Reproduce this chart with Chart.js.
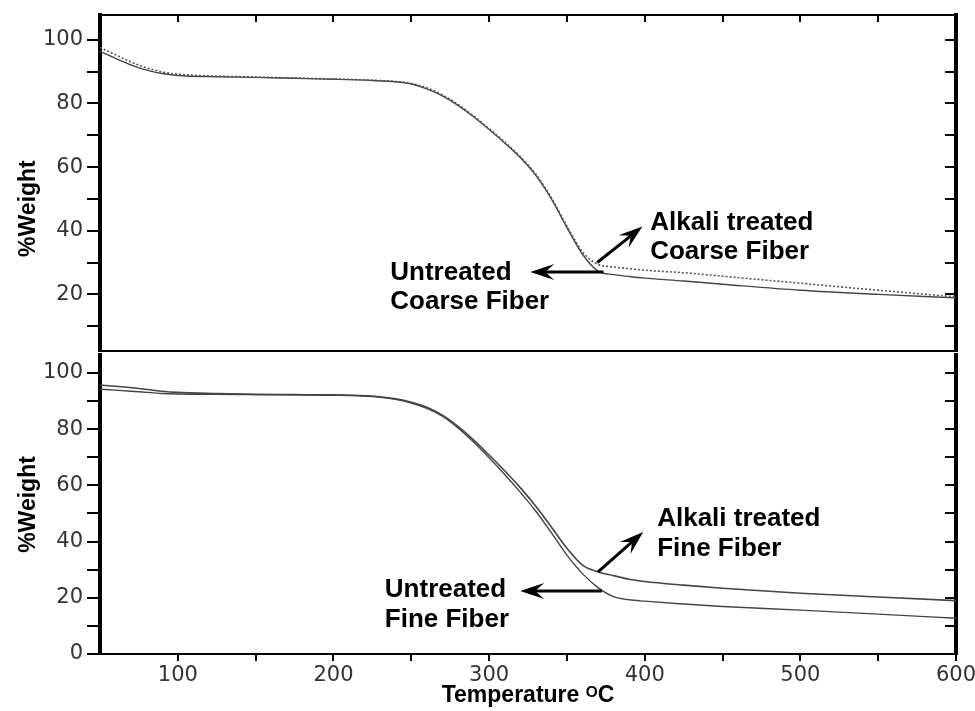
<!DOCTYPE html>
<html>
<head>
<meta charset="utf-8">
<script src="https://cdn.jsdelivr.net/npm/chart.js@4.4.1/dist/chart.umd.min.js"></script>
<style>
  html, body { margin: 0; padding: 0; background: #fff; }
  #wrap { position: relative; width: 975px; height: 711px; overflow: hidden; }
  canvas { position: absolute; left: 0; }
  #topChart { top: 0; }
  #bottomChart { top: 353px; }
</style>
</head>
<body>
<div id="wrap">
  <canvas id="topChart" width="975" height="353"></canvas>
  <canvas id="bottomChart" width="975" height="358"></canvas>
</div>
<script>
// temperature (°C) sampled along the curves
const temps = [50, 60, 75, 90, 100, 125, 150, 175, 200, 225, 240, 250, 260, 270, 280, 290,
  300, 310, 320, 330, 340, 350, 360, 370, 380, 390, 400, 425, 450, 500, 550, 600];

// top panel – coarse fiber
const coarseTreated = [97.6, 95.3, 92.0, 89.9, 89.2, 88.6, 88.3, 88.0, 87.7, 87.3, 86.9, 86.3, 84.9, 82.7, 79.7, 76.1,
  72.1, 67.9, 63.3, 57.8, 50.4, 41.5, 33.4, 29.4, 28.6, 28.1, 27.6, 26.8, 25.7, 23.5, 21.3, 19.2];
const coarseUntreated = [96.4, 94.2, 91.2, 89.4, 88.8, 88.4, 88.2, 87.9, 87.6, 87.2, 86.8, 86.1, 84.6, 82.4, 79.4, 75.8,
  71.8, 67.6, 63.0, 57.4, 50.0, 41.0, 32.6, 27.3, 26.2, 25.6, 25.1, 24.2, 23.2, 21.3, 20.0, 18.9];

// bottom panel – fine fiber
const fineTreated = [95.7, 95.3, 94.5, 93.5, 93.1, 92.7, 92.4, 92.3, 92.2, 91.8, 90.8, 89.6, 87.8, 85.0, 81.0, 76.2,
  70.8, 65.2, 59.2, 52.6, 45.2, 37.6, 31.6, 29.2, 27.9, 26.6, 25.8, 24.5, 23.4, 21.6, 20.3, 19.0];
const fineUntreated = [94.2, 93.9, 93.3, 92.7, 92.5, 92.4, 92.3, 92.2, 92.1, 91.6, 90.6, 89.3, 87.4, 84.6, 80.4, 75.4,
  69.8, 63.9, 57.6, 50.8, 43.2, 35.2, 28.6, 23.6, 20.4, 19.3, 18.8, 17.8, 16.9, 15.6, 14.2, 12.7];

// ticks
const xTicks = [100, 150, 200, 250, 300, 350, 400, 450, 500, 550, 600];
const xLabels = [100, 200, 300, 400, 500, 600];
const topYTicks = [10, 20, 30, 40, 50, 60, 70, 80, 90, 100];
const bottomYTicks = [0, 10, 20, 30, 40, 50, 60, 70, 80, 90, 100];
const yLabels = [0, 20, 40, 60, 80, 100];

const toPoints = arr => temps.map((t, i) => ({ x: t, y: arr[i] }));

// fix axis box size so both panels line up
const fixBox = (w, h) => ax => {
  if (w !== null) ax.width = w;
  if (h !== null) ax.height = h;
  ax.paddingTop = 0; ax.paddingBottom = 0; ax.paddingLeft = 0; ax.paddingRight = 0;
};
const setTicks = list => ax => { ax.ticks = list.map(v => ({ value: v })); };

function drawArrow(ctx, x1, y1, x2, y2) {
  const ang = Math.atan2(y2 - y1, x2 - x1);
  const head = 24, half = 8;
  ctx.save();
  ctx.strokeStyle = '#000';
  ctx.fillStyle = '#000';
  ctx.lineWidth = 3;
  ctx.beginPath();
  ctx.moveTo(x1, y1);
  ctx.lineTo(x2 - Math.cos(ang) * head * 0.6, y2 - Math.sin(ang) * head * 0.6);
  ctx.stroke();
  ctx.translate(x2, y2);
  ctx.rotate(ang);
  ctx.beginPath();
  ctx.moveTo(0, 0);
  ctx.lineTo(-head, -half);
  ctx.lineTo(-head * 0.62, 0);
  ctx.lineTo(-head, half);
  ctx.closePath();
  ctx.fill();
  ctx.restore();
}

// labels and arrows placed in data units
const notesPlugin = {
  id: 'notes',
  afterDatasetsDraw(chart, args, opts) {
    const { ctx, scales: { x, y } } = chart;
    ctx.save();
    ctx.fillStyle = '#000';
    ctx.font = 'bold 26px "Liberation Sans", Arial, sans-serif';
    ctx.textBaseline = 'middle';
    ctx.textAlign = 'left';
    opts.texts.forEach(t => {
      t.lines.forEach((line, i) => {
        ctx.fillText(line, x.getPixelForValue(t.x), y.getPixelForValue(t.y[i]));
      });
    });
    ctx.restore();
    opts.arrows.forEach(a => {
      drawArrow(ctx,
        x.getPixelForValue(a.from[0]), y.getPixelForValue(a.from[1]),
        x.getPixelForValue(a.to[0]), y.getPixelForValue(a.to[1]));
    });
  }
};

const tickFont = { family: '"DejaVu Sans", Verdana, sans-serif', size: 21 };
const titleFont = { family: '"Liberation Sans", Arial, sans-serif', size: 23, weight: 'bold' };

function makePanel(id, cfg) {
  const xScale = {
    type: 'linear', min: 50, max: 600, position: 'bottom',
    afterBuildTicks: setTicks(xTicks),
    afterFit: fixBox(null, cfg.bottomHeight),
    border: { color: '#000', width: 2 },
    grid: { drawOnChartArea: false, drawTicks: cfg.showX, tickLength: 7, color: '#000', lineWidth: 2 },
    ticks: {
      display: cfg.showX, autoSkip: false, maxRotation: 0, padding: 2,
      color: '#333', font: tickFont,
      callback: v => xLabels.includes(v) ? String(v) : ''
    },
    title: {
      display: cfg.showX, text: 'Temperature ᴼC', color: '#000',
      font: { ...titleFont, size: 23 }, padding: { top: 0, bottom: 2 }
    }
  };
  const scales = {
    x: xScale,
    y: {
      type: 'linear', min: cfg.yMin, max: cfg.yMax, position: 'left',
      afterBuildTicks: setTicks(cfg.yTicks),
      afterFit: fixBox(100, null),
      border: { color: '#000', width: 4 },
      grid: { drawOnChartArea: false, tickLength: 13, color: '#000', lineWidth: 2 },
      ticks: {
        autoSkip: false, padding: 4, color: '#333', font: tickFont,
        callback: v => yLabels.includes(v) ? String(v) : ''
      },
      title: { display: true, text: cfg.yTitle, color: '#000', font: titleFont, padding: { top: 15, bottom: 0 } }
    },
    yRight: {
      type: 'linear', min: cfg.yMin, max: cfg.yMax, position: 'right',
      afterBuildTicks: setTicks(cfg.yTicks),
      afterFit: fixBox(19, null),
      border: { color: '#000', width: 4 },
      grid: { drawOnChartArea: false, tickLength: -11, color: '#000', lineWidth: 2 },
      ticks: { display: false }
    }
  };
  if (cfg.topAxis) {
    scales.xTop = {
      type: 'linear', min: 50, max: 600, position: 'top',
      afterBuildTicks: setTicks(xTicks),
      afterFit: fixBox(null, 15),
      border: { color: '#000', width: 2 },
      grid: { drawOnChartArea: false, tickLength: -7, color: '#000', lineWidth: 2 },
      ticks: { display: false }
    };
  }
  return new Chart(document.getElementById(id), {
    type: 'line',
    data: {
      datasets: [
        {
          label: cfg.names[0],
          data: toPoints(cfg.treated),
          borderColor: cfg.treatedColor,
          borderWidth: 1.6,
          borderDash: cfg.treatedDash,
          pointRadius: 0,
          cubicInterpolationMode: 'monotone',
          fill: false
        },
        {
          label: cfg.names[1],
          data: toPoints(cfg.untreated),
          borderColor: '#444',
          borderWidth: 1.4,
          pointRadius: 0,
          cubicInterpolationMode: 'monotone',
          fill: false
        }
      ]
    },
    options: {
      responsive: false,
      animation: false,
      devicePixelRatio: 1,
      layout: { padding: { top: cfg.padTop, left: 0, right: 0, bottom: 0 } },
      plugins: {
        legend: { display: false },
        tooltip: { enabled: false },
        notes: cfg.notes
      },
      scales
    },
    plugins: [notesPlugin]
  });
}

makePanel('topChart', {
  treated: coarseTreated,
  untreated: coarseUntreated,
  names: ['Alkali treated Coarse Fiber', 'Untreated Coarse Fiber'],
  treatedColor: '#555',
  treatedDash: [2, 2],
  yMin: 2.2, yMax: 107.8,
  yTicks: topYTicks,
  // trailing spaces push the rotated title down, as in the original figure
  yTitle: '%Weight\u00a0\u00a0\u00a0\u00a0\u00a0\u00a0\u00a0\u00a0',
  showX: false,
  bottomHeight: 2,
  topAxis: true,
  padTop: 0,
  notes: {
    texts: [
      { lines: ['Alkali treated', 'Coarse Fiber'], x: 403.5, y: [42.6, 33.5] },
      { lines: ['Untreated', 'Coarse Fiber'], x: 236.5, y: [26.9, 17.5] }
    ],
    arrows: [
      { from: [369.5, 30.0], to: [398.5, 41.3] },
      { from: [373.5, 27.0], to: [326.5, 27.0] }
    ]
  }
});

makePanel('bottomChart', {
  treated: fineTreated,
  untreated: fineUntreated,
  names: ['Alkali treated Fine Fiber', 'Untreated Fine Fiber'],
  treatedColor: '#444',
  treatedDash: [],
  yMin: 0, yMax: 106.4,
  yTicks: bottomYTicks,
  yTitle: '%Weight',
  showX: true,
  bottomHeight: 57,
  topAxis: false,
  padTop: 2,
  notes: {
    texts: [
      { lines: ['Alkali treated', 'Fine Fiber'], x: 408, y: [48.0, 37.4] },
      { lines: ['Untreated', 'Fine Fiber'], x: 233, y: [22.8, 12.1] }
    ],
    arrows: [
      { from: [370, 29.2], to: [399, 43.4] },
      { from: [372.5, 22.4], to: [320, 22.4] }
    ]
  }
});
</script>
</body>
</html>
